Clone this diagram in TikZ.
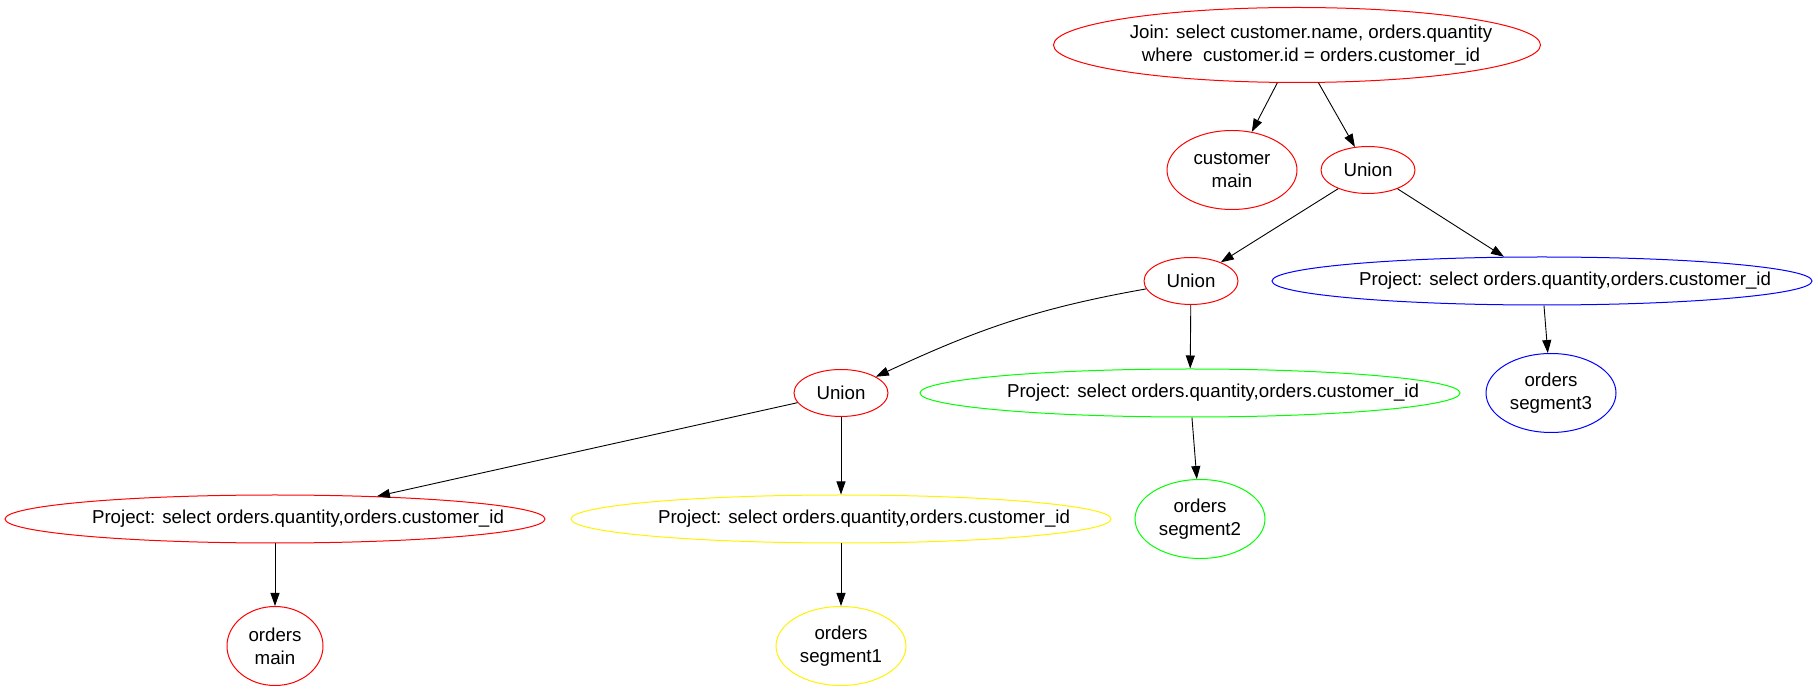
\documentclass[tikz,border=0pt]{standalone}
\usepackage{fontspec}
\setmainfont{Liberation Sans}
\usetikzlibrary{arrows.meta, shapes.geometric}

\begin{document}
\begin{tikzpicture}[x=1pt, y=1pt,
  >={Triangle[length=13pt, width=9pt]},
  every node/.style={font=\fontsize{18.7}{23}\selectfont},
  op/.style={ellipse, draw=#1, line width=1pt, inner sep=0pt, align=center},
  unionop/.style={op=red, minimum width=94pt, minimum height=47pt},
  leafop/.style={op=#1, minimum width=130pt, minimum height=79pt},
  projop/.style={op=#1, minimum width=540pt, minimum height=48pt},
  flow/.style={->, line width=0.9pt}]

% Background
\fill[white] (0,0) rectangle (1818,691);

% Join and its inputs
\node[op=red, minimum width=487pt, minimum height=75pt,
  label={[xshift=14pt, align=center]center:{Join: select customer.name, orders.quantity\\where\ \ customer.id = orders.customer\_id}}] (join) at (1297,646) {};
\node[leafop=red] (custmain) at (1232,521) {customer\\main};
\node[unionop] (union1) at (1368,521) {Union};

% Second level
\node[unionop] (union2) at (1191,410) {Union};
\node[projop=blue, label={[xshift=23pt]center:{Project: select orders.quantity,orders.customer\_id}}] (projblue) at (1542,410) {};

% Third level
\node[unionop] (union3) at (841,298) {Union};
\node[projop=green, label={[xshift=23pt]center:{Project: select orders.quantity,orders.customer\_id}}] (projgreen) at (1190,298) {};
\node[leafop=blue] (seg3) at (1551,298) {orders\\segment3};

% Fourth level
\node[projop=red, label={[xshift=23pt]center:{Project: select orders.quantity,orders.customer\_id}}] (projred) at (275,172) {};
\node[projop=yellow, label={[xshift=23pt]center:{Project: select orders.quantity,orders.customer\_id}}] (projyellow) at (841,172) {};
\node[leafop=green] (seg2) at (1200,172) {orders\\segment2};

% Scans
\node[op=red, minimum width=96pt, minimum height=79pt] (ordmain) at (275,45) {orders\\main};
\node[leafop=yellow] (seg1) at (841,45) {orders\\segment1};

% Edges
\draw[flow] (join) -- (custmain);
\draw[flow] (join) -- (union1);
\draw[flow] (union1) -- (union2);
\draw[flow] (union1) -- (projblue);
\draw[flow] (projblue) -- (seg3);
\draw[flow] (union2) to[out=190, in=25] (union3);
\draw[flow] (union2) -- (projgreen);
\draw[flow] (projgreen) -- (seg2);
\draw[flow] (union3) -- (projred);
\draw[flow] (union3) -- (projyellow);
\draw[flow] (projred) -- (ordmain);
\draw[flow] (projyellow) -- (seg1);

\end{tikzpicture}
\end{document}
